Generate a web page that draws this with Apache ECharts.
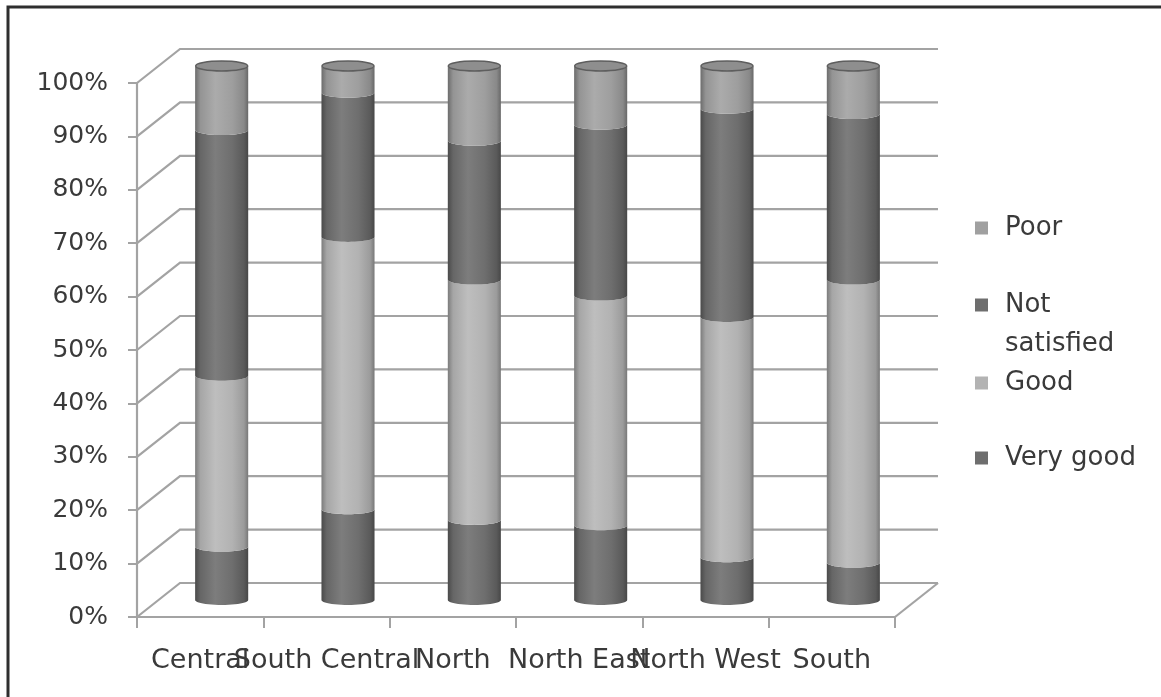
<!DOCTYPE html>
<html>
<head>
<meta charset="utf-8">
<script src="https://cdn.jsdelivr.net/npm/echarts@6/dist/echarts.min.js"></script>
<style>
  html, body { margin: 0; padding: 0; background: #ffffff; }
  #chart { width: 1161px; height: 697px; }
</style>
</head>
<body>
<div id="chart"></div>
<script>
// Regions and satisfaction shares (percent of respondents)
const categories = ['Central', 'South Central', 'North', 'North East', 'North West', 'South'];
const veryGood     = [10, 17, 15, 14, 8, 7];
const good         = [32, 51, 45, 43, 45, 53];
const notSatisfied = [46, 27, 26, 32, 39, 31];
const poor         = [12, 5, 14, 11, 8, 9];
// Value-axis gridline levels
const gridLevels = [0, 10, 20, 30, 40, 50, 60, 70, 80, 90, 100];

// Depth of the 3D box (back wall offset from the front plane)
const DX = 43, DY = -34;
const LINE = '#a3a3a3';
const TEXT = '#3a3a3a';

const segments = [
  { name: 'Very good', values: veryGood, color: '#6e6e6e',
    stops: ['#4a4a4a', '#666666', '#7d7d7d', '#6e6e6e', '#5a5a5a', '#474747'] },
  { name: 'Good', values: good, color: '#b3b3b3',
    stops: ['#7c7c7c', '#a6a6a6', '#bebebe', '#b2b2b2', '#9b9b9b', '#787878'] },
  { name: 'Not satisfied', values: notSatisfied, color: '#6e6e6e',
    stops: ['#4a4a4a', '#666666', '#7d7d7d', '#6e6e6e', '#5a5a5a', '#474747'] },
  { name: 'Poor', values: poor, color: '#a0a0a0',
    stops: ['#6c6c6c', '#949494', '#ababab', '#9e9e9e', '#898989', '#686868'] }
];

function gradient(stops) {
  const pos = [0, 0.1, 0.38, 0.7, 0.92, 1];
  return {
    type: 'linear', x: 0, y: 0, x2: 1, y2: 0,
    colorStops: stops.map((c, i) => ({ offset: pos[i], color: c }))
  };
}

function arcPoints(cx, cy, rx, ry, from, to, n) {
  const pts = [];
  for (let i = 0; i <= n; i++) {
    const a = from + (to - from) * i / n;
    pts.push([cx + rx * Math.cos(a), cy + ry * Math.sin(a)]);
  }
  return pts;
}

// Stacked cylinder data: [categoryIndex, base, top]
const stackBase = categories.map(() => 0);
const cylinderSeries = segments.map((seg, si) => {
  const data = seg.values.map((v, i) => {
    const base = stackBase[i];
    stackBase[i] += v;
    return [i, base, base + v];
  });
  const isTop = si === segments.length - 1;
  return {
    type: 'custom',
    name: seg.name,
    coordinateSystem: 'cartesian2d',
    itemStyle: { color: seg.color },
    encode: { x: 0, y: [1, 2] },
    clip: false,
    z: 3,
    data: data,
    renderItem: function (params, api) {
      const cat = api.value(0);
      const p0 = api.coord([cat, api.value(1)]);
      const p1 = api.coord([cat, api.value(2)]);
      const cx = p0[0] + DX / 2;
      const yb = p0[1] + DY / 2;
      const yt = p1[1] + DY / 2;
      const rx = api.size([1, 0])[0] * 0.21;
      const ry = 5;
      // side: front arc at the bottom, front arc at the top
      const bottom = arcPoints(cx, yb, rx, ry, Math.PI, 0, 24);
      const top = arcPoints(cx, yt, rx, ry, 0, Math.PI, 24);
      const children = [{
        type: 'polygon',
        shape: { points: bottom.concat(top) },
        style: { fill: gradient(seg.stops), stroke: null }
      }];
      if (isTop) {
        children.push({
          type: 'ellipse',
          shape: { cx: cx, cy: yt, rx: rx - 0.5, ry: ry },
          style: { fill: '#8e8e8e', stroke: '#5e5e5e', lineWidth: 1.5 }
        });
      }
      return { type: 'group', children: children };
    }
  };
});

// Back wall gridlines with their receding diagonals
const wallSeries = {
  type: 'custom',
  name: 'wall',
  coordinateSystem: 'cartesian2d',
  encode: { x: 0, y: 1 },
  clip: false,
  silent: true,
  z: 1,
  data: gridLevels.map(v => [0, v]),
  renderItem: function (params, api) {
    const cs = params.coordSys;
    const y = api.coord([0, api.value(1)])[1];
    const x0 = cs.x, x1 = cs.x + cs.width;
    const children = [{
      type: 'polyline',
      shape: { points: [[x0, y], [x0 + DX, y + DY], [x1 + DX, y + DY]] },
      style: { stroke: LINE, lineWidth: 2.2, fill: null }
    }];
    if (api.value(1) === 0) {
      children.push({
        type: 'polyline',
        shape: { points: [[x1, y], [x1 + DX, y + DY]] },
        style: { stroke: LINE, lineWidth: 2.2, fill: null }
      });
    }
    return { type: 'group', children: children };
  }
};

// One legend block per entry so the wrapped label keeps its own spacing
const legendFont = { fontFamily: 'DejaVu Sans', fontSize: 26, color: TEXT };
function legendBlock(name, centerY, text, lines) {
  const lh = 39;
  return {
    data: [name],
    orient: 'vertical',
    left: 975,
    top: centerY - lh * lines / 2,
    padding: 0,
    itemWidth: 13,
    itemHeight: 13,
    selectedMode: false,
    icon: 'rect',
    formatter: () => text,
    textStyle: Object.assign({}, legendFont, {
      lineHeight: lh,
      padding: [0, 0, 0, 12],
      rich: {
        s: { fontSize: 26, lineHeight: lh, fontFamily: 'DejaVu Sans' },
        t: { fontSize: 26, lineHeight: lh, fontFamily: 'DejaVu Sans', color: TEXT }
      }
    })
  };
}

const chart = echarts.init(document.getElementById('chart'), null, { renderer: 'canvas' });
chart.setOption({
  backgroundColor: '#ffffff',
  animation: false,
  grid: { left: 137, right: 266, top: 83, bottom: 80 },
  xAxis: {
    type: 'category',
    data: categories,
    boundaryGap: true,
    axisLine: { show: true, lineStyle: { color: LINE, width: 2.2 } },
    axisTick: { show: true, length: 11, lineStyle: { color: LINE, width: 2 } },
    axisLabel: { interval: 0, margin: 30, color: TEXT, fontFamily: 'DejaVu Sans', fontSize: 27 },
    splitLine: { show: false }
  },
  yAxis: {
    type: 'value',
    min: 0, max: 100, interval: 10,
    axisLine: { show: true, lineStyle: { color: LINE, width: 2.2 } },
    axisTick: { show: true, length: 9, lineStyle: { color: LINE, width: 2 } },
    axisLabel: { formatter: '{value}%', margin: 29, color: TEXT, fontFamily: 'DejaVu Sans', fontSize: 25 },
    splitLine: { show: false }
  },
  legend: [
    legendBlock('Poor', 228, '{t|Poor}', 1),
    legendBlock('Not satisfied', 305, '{s| }\n{t|Not}\n{t|satisfied}', 3),
    legendBlock('Good', 383, '{t|Good}', 1),
    legendBlock('Very good', 458, '{t|Very good}', 1)
  ],
  graphic: [{
    type: 'polyline',
    silent: true,
    shape: { points: [[8, 697], [8, 7], [1161, 7]] },
    style: { stroke: '#2e2e2e', lineWidth: 3, fill: null }
  }],
  series: [wallSeries].concat(cylinderSeries)
});
</script>
</body>
</html>
